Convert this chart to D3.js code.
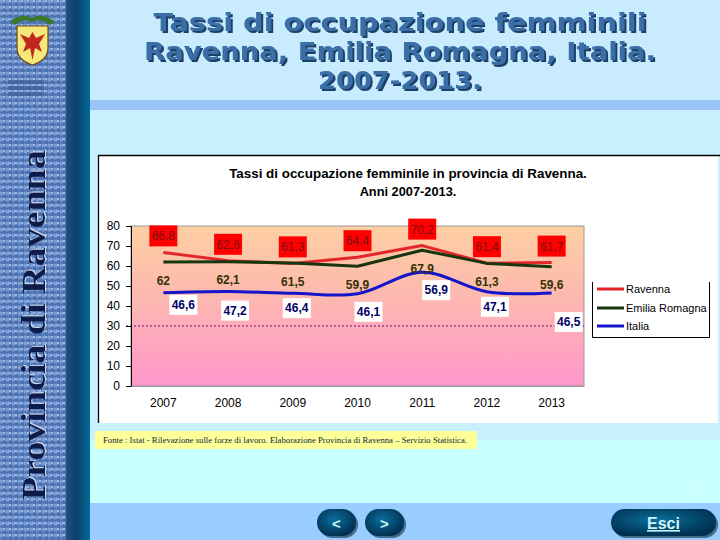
<!DOCTYPE html>
<html><head><meta charset="utf-8">
<script src="https://cdn.jsdelivr.net/npm/d3@7"></script>
<style>html,body{margin:0;padding:0;background:#c8f0ff;}svg{display:block;}</style>
</head><body>
<svg id="c" width="720" height="540"></svg>
<script>
// ---- data ----
const years = ["2007","2008","2009","2010","2011","2012","2013"];
const ravenna = [66.8, 62.6, 61.3, 64.4, 70.2, 61.4, 61.7];
const emilia = [62, 62.1, 61.5, 59.9, 67.9, 61.3, 59.6];
const italia = [46.6, 47.2, 46.4, 46.1, 56.9, 47.1, 46.5];
const yTicks = [0, 10, 20, 30, 40, 50, 60, 70, 80];
const seriesNames = ["Ravenna", "Emilia Romagna", "Italia"];

// label placement offsets (pixels, presentation only)
const italiaLabelOffsets = [[20,12],[7,19],[4,15],[11,18],[14,18],[8,15],[17,29]];

const svg = d3.select("#c");
const defs = svg.append("defs");

// shadow filters
const f1 = defs.append("filter").attr("id","tshadow").attr("x","-5%").attr("y","-20%").attr("width","110%").attr("height","150%");
f1.append("feDropShadow").attr("dx",2).attr("dy",2).attr("stdDeviation",0.3).attr("flood-color","#1c3f68").attr("flood-opacity",1);
const f2 = defs.append("filter").attr("id","vshadow").attr("x","-20%").attr("y","-5%").attr("width","140%").attr("height","110%");
f2.append("feDropShadow").attr("dx",1).attr("dy",1).attr("stdDeviation",0.3).attr("flood-color","#c8d8f0").attr("flood-opacity",1);

// backgrounds
svg.append("rect").attr("x",0).attr("y",0).attr("width",720).attr("height",540).attr("fill","#c9f2ff");
svg.append("rect").attr("x",90).attr("y",0).attr("width",630).attr("height",100).attr("fill","#c8ecfe");
svg.append("rect").attr("x",90).attr("y",100).attr("width",630).attr("height",10).attr("fill","#99c4f8");
svg.append("rect").attr("x",90).attr("y",110).attr("width",630).attr("height",393).attr("fill","#c9f0ff");
svg.append("rect").attr("x",90).attr("y",440).attr("width",630).attr("height",63).attr("fill","#c8ffff");
svg.append("rect").attr("x",90).attr("y",503).attr("width",630).attr("height",37).attr("fill","#99ccff");

// left band texture
const pat = defs.append("pattern").attr("id","tex").attr("patternUnits","userSpaceOnUse").attr("width",6).attr("height",6);
pat.append("rect").attr("width",6).attr("height",6).attr("fill","#5f82c0");
pat.append("rect").attr("x",0).attr("y",0).attr("width",3).attr("height",3).attr("fill","#7c9ed6");
pat.append("rect").attr("x",3).attr("y",3).attr("width",3).attr("height",3).attr("fill","#4c6fae");
pat.append("rect").attr("x",3).attr("y",0).attr("width",2).attr("height",2).attr("fill","#9cb8e4");
pat.append("rect").attr("x",1).attr("y",4).attr("width",1).attr("height",1).attr("fill","#3e5f9c");
svg.append("rect").attr("x",0).attr("y",0).attr("width",66).attr("height",540).attr("fill","url(#tex)");
const lg = defs.append("linearGradient").attr("id","band").attr("x1","0").attr("x2","1");
lg.append("stop").attr("offset","0").attr("stop-color","#24507e");
lg.append("stop").attr("offset","0.4").attr("stop-color","#0d3f68");
lg.append("stop").attr("offset","1").attr("stop-color","#006a98");
svg.append("rect").attr("x",66).attr("y",0).attr("width",24).attr("height",540).attr("fill","url(#band)");

// emblem
const em = svg.append("g");
em.append("path").attr("d","M10,22 Q20,12 32,18 Q44,12 55,22 L50,25 Q40,18 32,22 Q24,18 15,25 Z").attr("fill","#3a7a2a");
em.append("path").attr("d","M17,26 L48,26 L48,48 Q48,60 32.5,65 Q17,60 17,48 Z").attr("fill","#f5e77a").attr("stroke","#6a4a10").attr("stroke-width",1.2);
em.append("path").attr("d","M32.5,32 L36,38 L45,34 L39,44 L42,52 L35,48 L32.5,60 L30,48 L23,52 L26,44 L20,34 L29,38 Z").attr("fill","#c0281e");
[[8,80],[8,86],[8,92]].forEach(p=>{
  svg.append("rect").attr("x",p[0]).attr("y",p[1]).attr("width",36).attr("height",4).attr("fill","#3d5f96").attr("opacity",0.7);
});

// vertical text
svg.append("text").attr("transform","translate(45,325) rotate(-90)")
  .attr("text-anchor","middle").attr("font-family","Liberation Serif, serif").attr("font-weight","bold")
  .attr("font-size",33).attr("fill","#0c1c4c").attr("textLength",350).attr("lengthAdjust","spacingAndGlyphs")
  .attr("filter","url(#vshadow)")
  .text("Provincia di Ravenna");

// slide title
const titleLines = [["Tassi di occupazione  femminili",31,493],["Ravenna, Emilia Romagna, Italia.",60,512],["2007-2013.",89,164]];
titleLines.forEach(t=>{
  svg.append("text").attr("x",400).attr("y",t[1]).attr("text-anchor","middle")
    .attr("font-family","DejaVu Sans, sans-serif").attr("font-weight","bold").attr("font-size",24)
    .attr("textLength",t[2]).attr("lengthAdjust","spacingAndGlyphs")
    .attr("fill","#3a6ea6").attr("filter","url(#tshadow)").text(t[0]);
});

// chart frame
svg.append("rect").attr("x",98).attr("y",155).attr("width",620).attr("height",268).attr("fill","#ffffff");
svg.append("path").attr("d","M98.5,423 V155.5 H720").attr("fill","none").attr("stroke","#000").attr("stroke-width",1.3);

svg.append("text").attr("x",408).attr("y",178).attr("text-anchor","middle").attr("font-family","Liberation Sans, Arial, sans-serif")
  .attr("font-weight","bold").attr("font-size",13.4).text("Tassi di occupazione femminile in provincia di Ravenna.");
svg.append("text").attr("x",408).attr("y",196).attr("text-anchor","middle").attr("font-family","Liberation Sans, Arial, sans-serif")
  .attr("font-weight","bold").attr("font-size",12.8).text("Anni 2007-2013.");

// scales
const x = d3.scaleBand().domain(years).range([131,584]).padding(0);
const cx = d => x(d) + x.bandwidth()/2;
const y = d3.scaleLinear().domain([0,80]).range([386,226]);

// plot gradient
const pg = defs.append("linearGradient").attr("id","plotbg").attr("x1","0").attr("y1","0").attr("x2","0").attr("y2","1");
pg.append("stop").attr("offset","0").attr("stop-color","#fdcfa2");
pg.append("stop").attr("offset","0.45").attr("stop-color","#fdb8b0");
pg.append("stop").attr("offset","1").attr("stop-color","#ff96cc");
svg.append("rect").attr("x",131).attr("y",y(80)).attr("width",584-131).attr("height",y(0)-y(80))
  .attr("fill","url(#plotbg)").attr("stroke","#999").attr("stroke-width",1);

// dotted line at 30
svg.append("line").attr("x1",126).attr("x2",584).attr("y1",y(30)).attr("y2",y(30))
  .attr("stroke","#800080").attr("stroke-width",1).attr("stroke-dasharray","2,2");

// axes
const yAxis = d3.axisLeft(y).tickValues(yTicks).tickSize(5).tickPadding(6).tickFormat(d3.format("d"));
const ga = svg.append("g").attr("transform","translate(131,0)").call(yAxis);
ga.selectAll("text").attr("font-family","Liberation Sans, Arial, sans-serif").attr("font-size",12).attr("fill","#000");
ga.select(".domain").attr("stroke","#000");
const xAxis = d3.axisBottom(x).tickSize(0).tickPadding(12);
const gx = svg.append("g").attr("transform","translate(0,386)").call(xAxis);
gx.select(".domain").attr("stroke","#999");
gx.selectAll("text").attr("font-family","Liberation Sans, Arial, sans-serif").attr("font-size",12).attr("fill","#000");

// lines
const colors = ["#e3262a","#17350f","#1414c8"];
const seriesData = [ravenna, emilia, italia];
const lineLin = d3.line().x((d,i)=>cx(years[i])).y(d=>y(d));
const lineSmooth = d3.line().x((d,i)=>cx(years[i])).y(d=>y(d)).curve(d3.curveCatmullRom.alpha(0.5));
seriesData.forEach((s,k)=>{
  svg.append("path").datum(s).attr("d", k===2 ? lineSmooth : lineLin)
    .attr("fill","none").attr("stroke",colors[k]).attr("stroke-width",3).attr("stroke-linejoin","round");
});

const fmt = v => String(v).replace(".", ",");
// Ravenna labels
ravenna.forEach((v,i)=>{
  const px = cx(years[i]), py = y(v) - 16;
  svg.append("rect").attr("x",px-14).attr("y",py-11).attr("width",28).attr("height",21).attr("fill","#ff0000");
  svg.append("text").attr("x",px).attr("y",py+4).attr("text-anchor","middle")
    .attr("font-family","Liberation Sans, Arial, sans-serif").attr("font-size",12).attr("fill","#7a1010").text(fmt(v));
});
// Emilia labels
emilia.forEach((v,i)=>{
  const px = cx(years[i]), py = y(v) + 18.5;
  svg.append("text").attr("x",px).attr("y",py+4).attr("text-anchor","middle")
    .attr("font-family","Liberation Sans, Arial, sans-serif").attr("font-weight","bold").attr("font-size",12).attr("fill","#333300").text(fmt(v));
});
// Italia labels
italia.forEach((v,i)=>{
  const px = cx(years[i]) + italiaLabelOffsets[i][0], py = y(v) + italiaLabelOffsets[i][1];
  svg.append("rect").attr("x",px-14).attr("y",py-10).attr("width",28).attr("height",20).attr("fill","#ffffff");
  svg.append("text").attr("x",px).attr("y",py+4).attr("text-anchor","middle")
    .attr("font-family","Liberation Sans, Arial, sans-serif").attr("font-weight","bold").attr("font-size",12).attr("fill","#000066").text(fmt(v));
});

// legend
svg.append("rect").attr("x",592).attr("y",282).attr("width",117).attr("height",55).attr("fill","#fff");
svg.append("path").attr("d","M592.5,282 V337.5 H709.5 V282").attr("fill","none").attr("stroke","#000").attr("stroke-width",1);
const legY = [289, 308, 326];
seriesNames.forEach((n,k)=>{
  svg.append("line").attr("x1",597).attr("x2",624).attr("y1",legY[k]).attr("y2",legY[k]).attr("stroke",colors[k]).attr("stroke-width",3);
  svg.append("text").attr("x",626).attr("y",legY[k]+4).attr("font-family","Liberation Sans, Arial, sans-serif")
    .attr("font-size",11).attr("fill","#000").text(n);
});

// source box
svg.append("rect").attr("x",95).attr("y",431).attr("width",382).attr("height",18).attr("fill","#ffff99");
svg.append("text").attr("x",103).attr("y",443).attr("font-family","Liberation Serif, serif").attr("font-size",8.5)
  .attr("fill","#0a2a3a").attr("textLength",364).attr("lengthAdjust","spacingAndGlyphs")
  .text("Fonte : Istat - Rilevazione sulle forze di lavoro. Elaborazione Provincia di Ravenna – Servizio Statistica.");

// page number
svg.append("text").attr("x",700).attr("y",491).attr("text-anchor","middle").attr("font-family","Liberation Sans, Arial, sans-serif")
  .attr("font-size",10).attr("fill","#e2ffff").text("15");

// buttons
const bg = defs.append("radialGradient").attr("id","btn").attr("cx","0.45").attr("cy","0.4").attr("r","0.6");
bg.append("stop").attr("offset","0").attr("stop-color","#0a6f9e");
bg.append("stop").attr("offset","1").attr("stop-color","#00304f");
const buttons = [[317,356,"<",false],[365,404,">",false],[611,716,"Esci",true]];
buttons.forEach(b=>{
  const w = b[1]-b[0], h = 27;
  svg.append("rect").attr("x",b[0]+2).attr("y",511).attr("width",w).attr("height",h).attr("rx",h/2).attr("fill","#0a2a40").attr("opacity",0.6);
  svg.append("rect").attr("x",b[0]).attr("y",509).attr("width",w).attr("height",h).attr("rx",h/2).attr("fill","url(#btn)");
  const t = svg.append("text").attr("x",(b[0]+b[1])/2).attr("y",529).attr("text-anchor","middle")
    .attr("font-family","Liberation Sans, Arial, sans-serif").attr("font-weight","bold").attr("font-size",b[3]?16:15)
    .attr("fill","#ccf4ff").text(b[2]);
  if (b[3]) t.attr("text-decoration","underline");
});
</script>
</body></html>
